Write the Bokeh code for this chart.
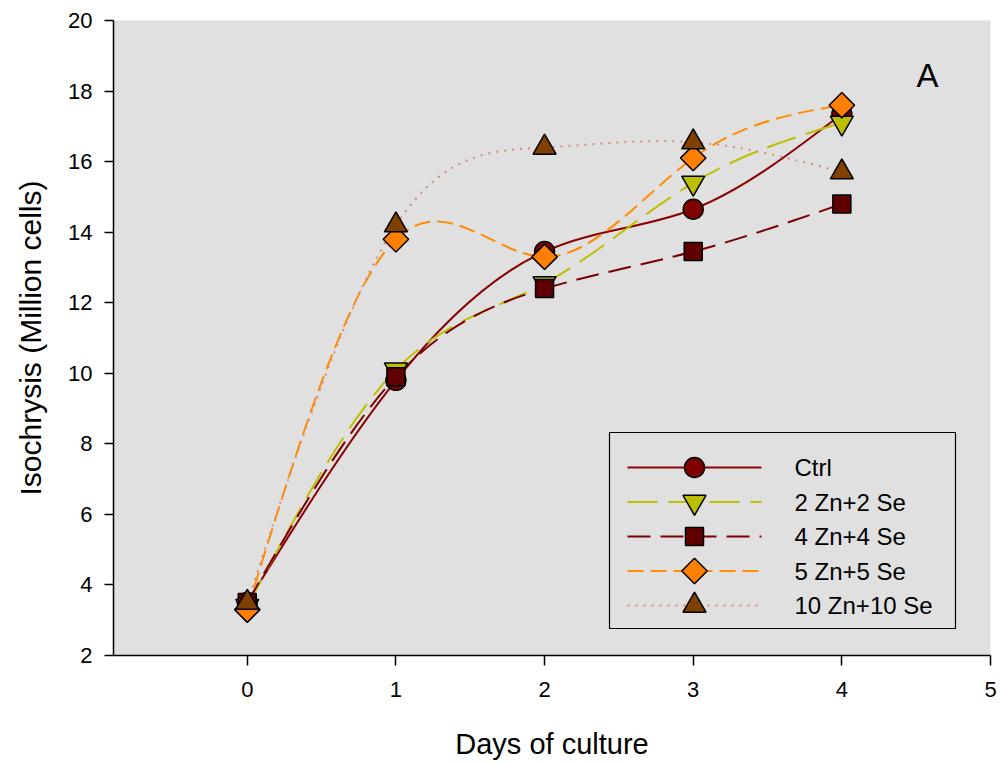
import numpy as np
from bokeh.plotting import figure
from bokeh.models import Range1d, Label, FixedTicker
from bokeh.core.properties import value
from bokeh.embed import file_html
from bokeh.resources import INLINE

# ---- data ----
days = [0, 1, 2, 3, 4]
ctrl = [3.5, 9.8, 13.45, 14.65, 17.35]
zn2 = [3.4, 10.1, 12.55, 15.4, 17.1]
zn4 = [3.5, 9.9, 12.4, 13.45, 14.8]
zn5 = [3.3, 13.8, 13.3, 16.1, 17.6]
zn10 = [3.5, 14.2, 16.4, 16.55, 15.7]
series_labels = ["Ctrl", "2 Zn+2 Se", "4 Zn+4 Se", "5 Zn+5 Se", "10 Zn+10 Se"]
x_ticks = [0, 1, 2, 3, 4, 5]
y_ticks = [2, 4, 6, 8, 10, 12, 14, 16, 18, 20]

FONT = "Liberation Sans"

# ---- layout constants (px) ----
W, H = 998, 762
BL, BR, BT, BB = 113, 8, 20, 107
FW, FH = W - BL - BR, H - BT - BB          # frame size

# legend box, measured from frame bottom-left
LEG_X, LEG_Y, LEG_W, LEG_H = 496, 27, 346, 196
ROW_TOP_OFF, ROW_PITCH = 35, 34.5
LINE_X0, LINE_X1 = 18, 152                  # sample line, from legend left
LABEL_X = 185                               # label start, from legend left


def spline_beziers(x, y):
    """Natural cubic spline through the points, as cubic Bezier segments."""
    x = np.asarray(x, float)
    y = np.asarray(y, float)
    n = len(x)
    h = np.diff(x)
    A = np.zeros((n, n))
    r = np.zeros(n)
    A[0, 0] = 1.0
    A[-1, -1] = 1.0
    for i in range(1, n - 1):
        A[i, i - 1] = h[i - 1]
        A[i, i] = 2 * (h[i - 1] + h[i])
        A[i, i + 1] = h[i]
        r[i] = 6 * ((y[i + 1] - y[i]) / h[i] - (y[i] - y[i - 1]) / h[i - 1])
    M = np.linalg.solve(A, r)
    d = np.zeros(n)
    for i in range(n - 1):
        d[i] = (y[i + 1] - y[i]) / h[i] - h[i] * (2 * M[i] + M[i + 1]) / 6
    d[-1] = (y[-1] - y[-2]) / h[-1] + h[-1] * (M[-2] + 2 * M[-1]) / 6
    return dict(
        x0=x[:-1], y0=y[:-1], x1=x[1:], y1=y[1:],
        cx0=x[:-1] + h / 3, cy0=y[:-1] + d[:-1] * h / 3,
        cx1=x[1:] - h / 3, cy1=y[1:] - d[1:] * h / 3,
    )


p = figure(
    width=W, height=H,
    x_range=Range1d(-0.9, 5), y_range=Range1d(2, 20),
    output_backend="svg", toolbar_location=None,
    min_border_left=BL, min_border_right=BR, min_border_top=BT, min_border_bottom=BB,
)
p.background_fill_color = "#E0E0E0"
p.border_fill_color = "white"
p.outline_line_color = None
p.grid.visible = False
# pixel ranges used only to lay out the legend box
p.extra_x_ranges = {"lgx": Range1d(0, FW)}
p.extra_y_ranges = {"lgy": Range1d(0, FH)}

for ax in (p.xaxis[0], p.yaxis[0]):
    ax.axis_line_color = "black"
    ax.axis_line_width = 1.5
    ax.major_tick_line_color = "black"
    ax.major_tick_line_width = 1.5
    ax.major_tick_in = 0
    ax.major_tick_out = 10
    ax.minor_tick_line_color = None
    ax.major_label_text_font = FONT
    ax.major_label_text_font_size = "22px"
    ax.major_label_text_color = "black"
    ax.axis_label_text_font = FONT
    ax.axis_label_text_font_style = "normal"
    ax.axis_label_text_color = "black"

p.xaxis.ticker = FixedTicker(ticks=x_ticks)
p.yaxis.ticker = FixedTicker(ticks=y_ticks)
p.xaxis.axis_label = "Days of culture"
p.yaxis.axis_label = "Isochrysis (Million cells)"
p.xaxis.axis_label_text_font_size = "29px"
p.yaxis.axis_label_text_font_size = "30px"
p.xaxis.major_label_standoff = 16
p.xaxis.axis_label_standoff = 28
p.yaxis.major_label_standoff = 12
p.yaxis.axis_label_standoff = 18
p.yaxis.major_tick_out = 9

styles = [
    dict(ys=ctrl, line_color="#8B0000", dash="solid", marker="circle", size=20, fill="#800000", angle=0.0),
    dict(ys=zn2, line_color="#BCC000", dash="30 11", marker="inverted_triangle", size=23, fill="#BBBF00", angle=0.0),
    dict(ys=zn4, line_color="#7A0000", dash="23 10", marker="square", size=18, fill="#600000", angle=0.0),
    dict(ys=zn5, line_color="#FF8C00", dash="16 7", marker="square", size=18, fill="#FF8000", angle=np.pi / 4),
    dict(ys=zn10, line_color="#D88A7A", dash="2 6", marker="triangle", size=23, fill="#7F4000", angle=0.0),
]

# ---- data curves (smooth spline through the points) ----
for st in styles:
    bz = spline_beziers(days, st["ys"])
    p.bezier(
        x0=bz["x0"], y0=bz["y0"], x1=bz["x1"], y1=bz["y1"],
        cx0=bz["cx0"], cy0=bz["cy0"], cx1=bz["cx1"], cy1=bz["cy1"],
        line_color=st["line_color"], line_width=2, line_dash=st["dash"],
    )

# ---- data markers ----
for st in styles:
    p.scatter(
        x=days, y=st["ys"], marker=st["marker"], size=st["size"], angle=st["angle"],
        fill_color=st["fill"], line_color="black", line_width=1.5,
    )

# ---- legend (box, sample lines, sample markers, labels) ----
lg = dict(x_range_name="lgx", y_range_name="lgy")
p.quad(left=[LEG_X], right=[LEG_X + LEG_W], bottom=[LEG_Y], top=[LEG_Y + LEG_H],
       fill_color="#E0E0E0", line_color="black", line_width=1.2, **lg)
row_y = [LEG_Y + LEG_H - ROW_TOP_OFF - i * ROW_PITCH for i in range(len(series_labels))]
for i, st in enumerate(styles):
    p.segment(x0=[LEG_X + LINE_X0], y0=[row_y[i]], x1=[LEG_X + LINE_X1], y1=[row_y[i]],
              line_color=st["line_color"], line_width=2, line_dash=st["dash"], **lg)
for i, st in enumerate(styles):
    p.scatter(x=[LEG_X + (LINE_X0 + LINE_X1) / 2], y=[row_y[i]], marker=st["marker"],
              size=st["size"], angle=st["angle"], fill_color=st["fill"],
              line_color="black", line_width=1.5, **lg)
p.text(x=[LEG_X + LABEL_X] * len(series_labels), y=row_y, text=series_labels,
       text_font=value(FONT), text_font_size=value("24px"), text_color="black",
       text_align="left", text_baseline="middle", **lg)

p.add_layout(Label(
    x=814, y=580, x_units="screen", y_units="screen", text="A",
    text_font=FONT, text_font_size="33px", text_align="center",
    text_baseline="alphabetic", text_color="black",
))

open("out.html", "w").write(file_html(p, INLINE))
